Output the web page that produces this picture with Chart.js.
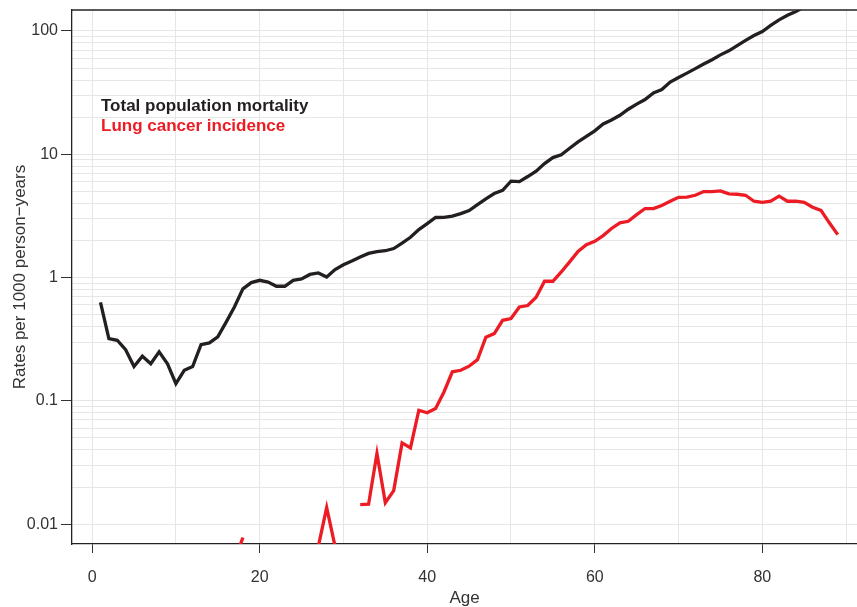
<!DOCTYPE html>
<html>
<head>
<meta charset="utf-8">
<script src="https://cdn.jsdelivr.net/npm/chart.js@4.4.0/dist/chart.umd.min.js"></script>
<style>
  html, body { margin: 0; padding: 0; background: #fff; }
  #wrap { width: 857px; height: 607px; }
</style>
</head>
<body>
<div id="wrap"><canvas id="myChart"></canvas></div>
<script>
let ages = [1, 2, 3, 4, 5, 6, 7, 8, 9, 10,
  11, 12, 13, 14, 15, 16, 17, 18, 19, 20,
  21, 22, 23, 24, 25, 26, 27, 28, 29, 30,
  31, 32, 33, 34, 35, 36, 37, 38, 39, 40,
  41, 42, 43, 44, 45, 46, 47, 48, 49, 50,
  51, 52, 53, 54, 55, 56, 57, 58, 59, 60,
  61, 62, 63, 64, 65, 66, 67, 68, 69, 70,
  71, 72, 73, 74, 75, 76, 77, 78, 79, 80,
  81, 82, 83, 84, 85, 86, 87, 88, 89];

let seriesNames = ["Total population mortality", "Lung cancer incidence"];

let totalMortality = [0.63, 0.32, 0.31, 0.26, 0.19, 0.23, 0.20, 0.25, 0.20, 0.138,
  0.177, 0.19, 0.286, 0.295, 0.33, 0.435, 0.58, 0.81, 0.91, 0.95,
  0.92, 0.85, 0.85, 0.95, 0.975, 1.06, 1.09, 1.01, 1.16, 1.27,
  1.36, 1.47, 1.57, 1.62, 1.65, 1.72, 1.9, 2.12, 2.45, 2.74,
  3.07, 3.08, 3.15, 3.3, 3.5, 3.9, 4.35, 4.8, 5.1, 6.05,
  6.0, 6.6, 7.3, 8.4, 9.4, 9.9, 11.2, 12.6, 14.0, 15.5,
  17.6, 19.0, 20.7, 23.2, 25.5, 27.8, 31.5, 33.5, 38.5, 42,
  45.5, 49.5, 54, 58.5, 64, 69, 76, 84, 92, 99,
  111, 123, 134, 144, 157, 172, 188, 205, 225];

let lungCancer = [null, null, null, null, null, null, null, null, null, null,
  null, null, null, null, null, null, 0.005, 0.0078, null, null,
  null, null, null, null, null, null, 0.0066, 0.0136, 0.0066, null,
  null, 0.0144, 0.0145, 0.0374, 0.0149, 0.0187, 0.0456, 0.0416, 0.0839, 0.080,
  0.0867, 0.118, 0.172, 0.177, 0.191, 0.216, 0.328, 0.351, 0.45, 0.465,
  0.578, 0.593, 0.692, 0.933, 0.933, 1.11, 1.34, 1.63, 1.85, 1.97,
  2.19, 2.5, 2.78, 2.86, 3.24, 3.63, 3.63, 3.84, 4.16, 4.48,
  4.5, 4.65, 4.98, 4.98, 5.05, 4.77, 4.74, 4.65, 4.16, 4.08,
  4.16, 4.57, 4.16, 4.16, 4.08, 3.72, 3.51, 2.78, 2.23];

let yTickLabels = [0.01, 0.1, 1, 10, 100];
let yMinorSteps = [1, 2, 3, 4, 5, 6, 7, 8, 9];
let xGridValues = [0, 10, 20, 30, 40, 50, 60, 70, 80, 90];
let xTickLabels = [0, 20, 40, 60, 80];

let colorHex = ["#231f20", "#ed1c24"];
let fontName = "'Liberation Sans', Arial, sans-serif";

// top frame line + text legend inside plot
const framePlugin = {
  id: "framePlugin",
  afterDraw(chart) {
    const c = chart.ctx;
    const a = chart.chartArea;
    c.save();
    c.strokeStyle = "#222";
    c.lineWidth = 1.3;
    c.beginPath();
    c.moveTo(a.left, a.top);
    c.lineTo(a.right, a.top);
    c.stroke();

    c.font = "bold 17px " + fontName;
    c.textBaseline = "alphabetic";
    c.textAlign = "left";
    for (let i = 0; i < seriesNames.length; i++) {
      c.fillStyle = colorHex[i];
      c.fillText(seriesNames[i], a.left + 29, a.top + 101 + i * 20);
    }
    c.restore();
  }
};

let ctx = document.getElementById("myChart").getContext("2d");

let myChart = new Chart(ctx, {
  type: "line",
  data: {
    datasets: [
      {
        label: seriesNames[0],
        data: ages.map((a, i) => ({ x: a, y: totalMortality[i] })),
        borderColor: colorHex[0],
        borderWidth: 3.3,
        pointRadius: 0,
        tension: 0,
        clip: 0,
      },
      {
        label: seriesNames[1],
        data: ages.map((a, i) => ({ x: a, y: lungCancer[i] })),
        borderColor: colorHex[1],
        borderWidth: 3.3,
        pointRadius: 0,
        tension: 0,
        spanGaps: false,
        clip: 0,
      },
    ],
  },
  options: {
    responsive: true,
    maintainAspectRatio: false,
    animation: false,
    layout: { padding: { top: 10, right: 0, left: 0, bottom: 0 } },
    plugins: {
      legend: { display: false },
      tooltip: { enabled: false },
    },
    scales: {
      x: {
        type: "linear",
        min: -2.4,
        max: 91.3,
        afterBuildTicks: (scale) => {
          scale.ticks = xGridValues.map((v) => ({ value: v }));
        },
        afterFit: (scale) => {
          scale.height = 63;
          scale.paddingLeft = 0;
          scale.paddingRight = 0;
        },
        ticks: {
          autoSkip: false,
          maxRotation: 0,
          padding: 15,
          color: "#333",
          font: { family: fontName, size: 16 },
          callback: (v) => (xTickLabels.includes(v) ? String(v) : ""),
        },
        grid: {
          color: "#e6e6e6",
          lineWidth: 1,
          tickLength: 9,
          tickColor: (c) => (c.tick && xTickLabels.includes(c.tick.value) ? "#333" : "rgba(0,0,0,0)"),
        },
        border: { display: true, color: "#222", width: 1.3 },
        title: {
          display: true,
          text: "Age",
          color: "#333",
          font: { family: fontName, size: 17 },
          padding: { top: 0, bottom: -2 },
        },
      },
      y: {
        type: "logarithmic",
        min: 0.0069,
        max: 148,
        afterBuildTicks: (scale) => {
          const t = [];
          yTickLabels.forEach((d) => {
            yMinorSteps.forEach((m) => {
              const v = d * m;
              if (v >= scale.min && v <= scale.max) t.push({ value: v });
            });
          });
          scale.ticks = t;
        },
        afterFit: (scale) => {
          scale.width = 72;
          scale.paddingTop = 0;
          scale.paddingBottom = 0;
        },
        ticks: {
          autoSkip: false,
          padding: 3,
          color: "#333",
          font: { family: fontName, size: 16 },
          callback: (v) => {
            const hit = yTickLabels.find((d) => Math.abs(d - v) / d < 1e-6);
            return hit !== undefined ? String(hit) : "";
          },
        },
        grid: {
          color: "#e6e6e6",
          lineWidth: 1,
          tickLength: 11,
          tickColor: (c) => {
            if (!c.tick) return "rgba(0,0,0,0)";
            const v = c.tick.value;
            return yTickLabels.some((d) => Math.abs(d - v) / d < 1e-6) ? "#333" : "rgba(0,0,0,0)";
          },
        },
        border: { display: true, color: "#222", width: 1.3 },
        title: {
          display: true,
          text: "Rates per 1000 person\u2212years",
          color: "#333",
          font: { family: fontName, size: 17 },
          padding: { top: 10, bottom: 0 },
        },
      },
    },
  },
  plugins: [framePlugin],
});
</script>
</body>
</html>
